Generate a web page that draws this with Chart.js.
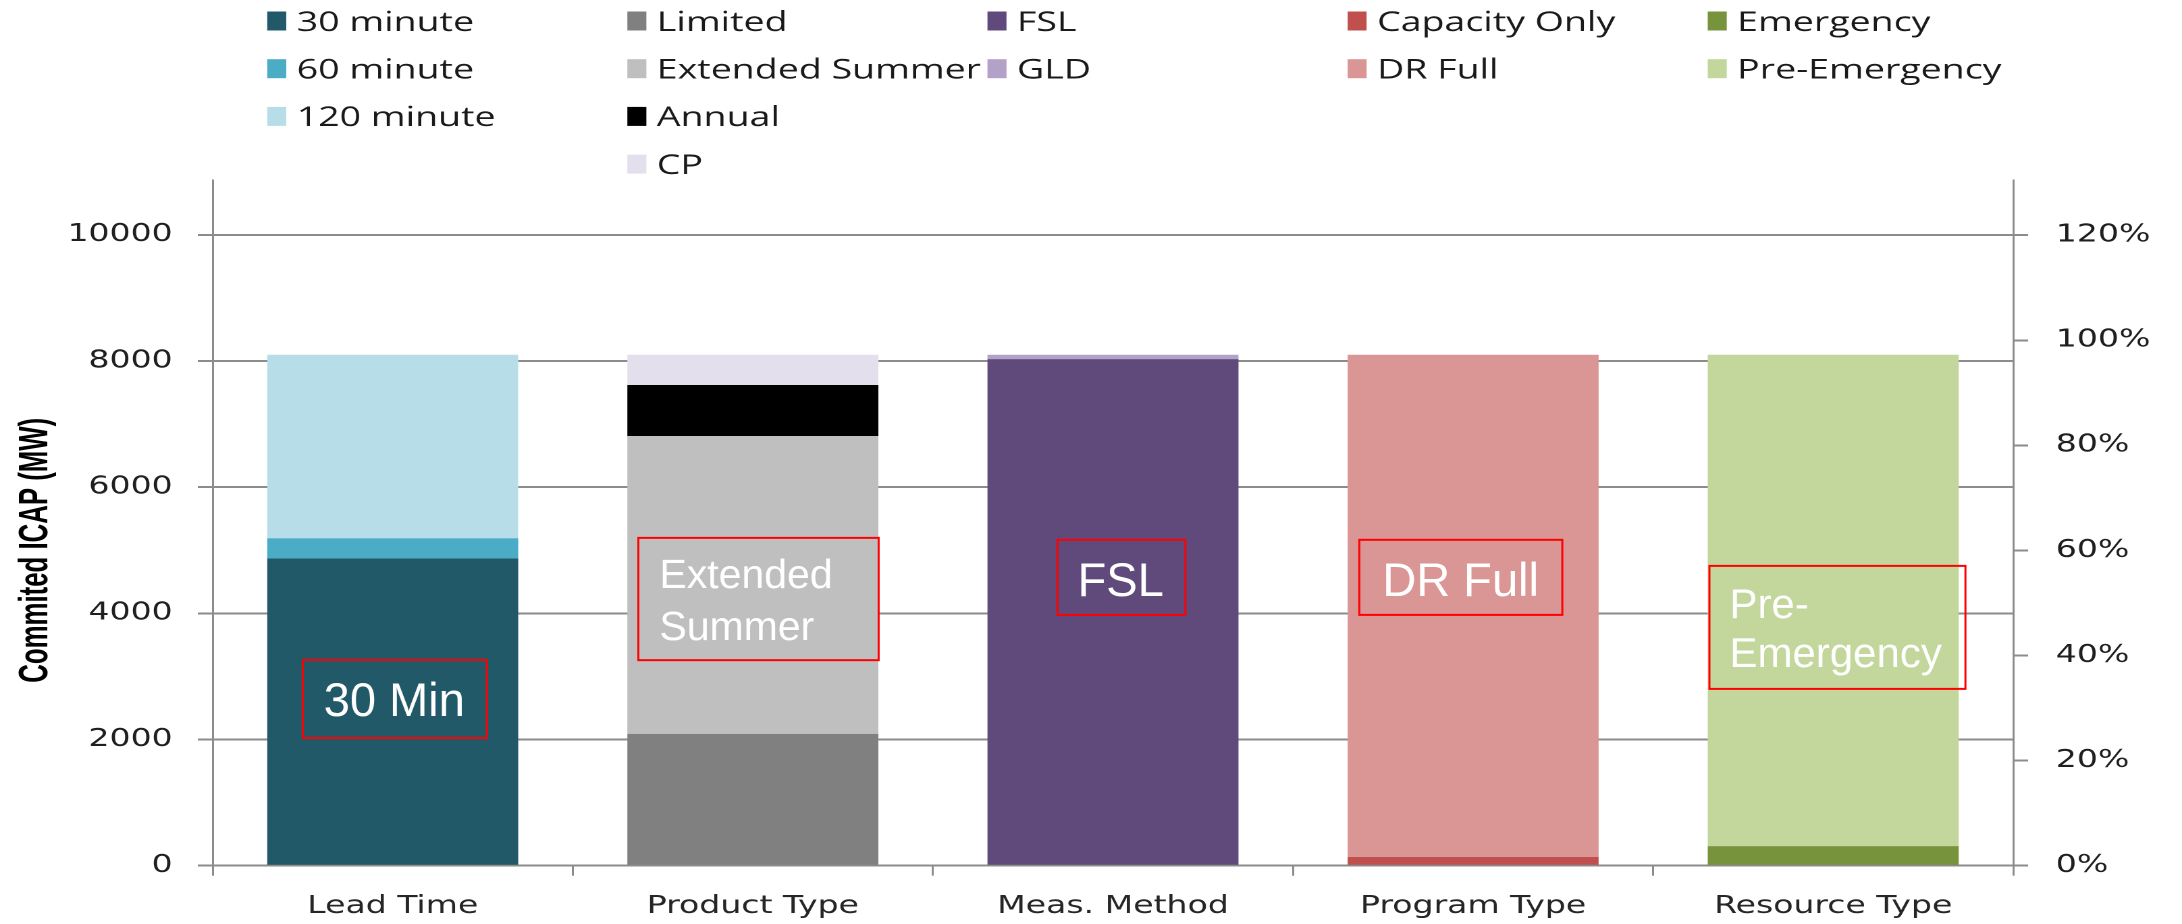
<!DOCTYPE html>
<html>
<head>
<meta charset="utf-8">
<script src="https://cdn.jsdelivr.net/npm/chart.js@4.4.1/dist/chart.umd.min.js"></script>
<style>
  html, body { margin: 0; padding: 0; background: #ffffff; overflow: hidden; }
  #wrap { position: absolute; left: 0; top: 0; width: 1616px; height: 924px; transform-origin: 0 0; }
</style>
</head>
<body>
<div id="wrap"><canvas id="c"></canvas></div>
<script>
// ---------------- data ----------------
const categories = ['Lead Time', 'Product Type', 'Meas. Method', 'Program Type', 'Resource Type'];

const leadTimeSeries = ['30 minute', '60 minute', '120 minute'];
const leadTimeValues = [4870, 320, 2910];

const productTypeSeries = ['Limited', 'Extended Summer', 'Annual', 'CP'];
const productTypeValues = [2090, 4720, 810, 480];

const measMethodSeries = ['FSL', 'GLD'];
const measMethodValues = [8030, 70];

const programTypeSeries = ['Capacity Only', 'DR Full'];
const programTypeValues = [140, 7960];

const resourceTypeSeries = ['Emergency', 'Pre-Emergency'];
const resourceTypeValues = [310, 7790];

const leftAxisTicks = [0, 2000, 4000, 6000, 8000, 10000];
const rightAxisTicks = [0, 20, 40, 60, 80, 100, 120];
const leftAxisMax = 10870;
const rightAxisMax = 130.5;
const yAxisTitle = 'Commited ICAP (MW)';
const annotationTexts = [['30 Min'], ['Extended', 'Summer'], ['FSL'], ['DR Full'], ['Pre-', 'Emergency']];

// ---------------- styles ----------------
const groupColors = [
  ['#215968', '#4BACC6', '#B7DEE8'],
  ['#808080', '#BFBFBF', '#000000', '#E4DFEC'],
  ['#604A7B', '#B3A2C7'],
  ['#C0504D', '#D99694'],
  ['#77933C', '#C3D69B']
];
const STRETCH = 2182 / 1616;          // the original picture is stretched horizontally
document.getElementById('wrap').style.transform = 'scaleX(' + STRETCH + ')';
const GRID = '#8C8C8C';
const TICK_FONT = { family: '"DejaVu Sans", Verdana, sans-serif', size: 24.5 };

// annotation layout (final-image pixels relative to category centre, y in axis units)
const annotationLayout = [
  { cat: 0, dx: [-90, 94],       top: 3262, bottom: 2025, size: 47, tx: 21, base: [56] },
  { cat: 1, dx: [-114.5, 125.8], top: 5197, bottom: 3258, size: 41, tx: 21, base: [50, 102] },
  { cat: 2, dx: [-55.5, 72.5],   top: 5166, bottom: 3976, size: 47, tx: 20, base: [56] },
  { cat: 3, dx: [-113.8, 89.2],  top: 5166, bottom: 3976, size: 47, tx: 23, base: [56] },
  { cat: 4, dx: [-123.8, 132.2], top: 4753, bottom: 2803, size: 42, tx: 20, base: [52, 101] }
];

// ---------------- datasets ----------------
const groups = [
  [leadTimeSeries, leadTimeValues],
  [productTypeSeries, productTypeValues],
  [measMethodSeries, measMethodValues],
  [programTypeSeries, programTypeValues],
  [resourceTypeSeries, resourceTypeValues]
];
const datasets = [];
groups.forEach(([names, vals], g) => {
  names.forEach((name, k) => {
    datasets.push({
      label: name,
      data: categories.map((_, i) => (i === g ? vals[k] : null)),
      backgroundColor: groupColors[g][k],
      borderWidth: 0,
      group: g,
      yAxisID: 'y',
      barPercentage: 0.697,
      categoryPercentage: 1
    });
  });
});

// ---------------- plugins ----------------
const customLegend = {
  id: 'customLegend',
  afterDraw(chart) {
    const ctx = chart.ctx;
    const rowIdx = categories.map(() => 0);
    ctx.save();
    chart.data.datasets.forEach((ds, i) => {
      const g = ds.group;
      const r = rowIdx[g]++;
      const bar = chart.getDatasetMeta(i).data[g];
      const left = bar.x - bar.width / 2;
      const cy = 21 + r * 47.7;
      ctx.fillStyle = ds.backgroundColor;
      ctx.fillRect(left, cy - 9.5, 19 / STRETCH, 19);
      ctx.fillStyle = '#1a1a1a';
      ctx.font = '27.8px "Open Sans", "DejaVu Sans", sans-serif';
      ctx.textAlign = 'left';
      ctx.textBaseline = 'alphabetic';
      ctx.fillText(ds.label, left + 21.8, cy + 9.8);
    });
    ctx.restore();
  }
};

const yTitlePlugin = {
  id: 'yTitlePlugin',
  afterDraw(chart) {
    const ctx = chart.ctx;
    const ys = chart.scales.y;
    const cy = ys.getPixelForValue((leftAxisTicks[0] + leftAxisTicks[leftAxisTicks.length - 1]) / 2);
    ctx.save();
    ctx.translate(ys.left + 34.8, cy);
    ctx.rotate(-Math.PI / 2);
    ctx.font = 'bold 31px "Liberation Sans", Arial, sans-serif';
    const w = ctx.measureText(yAxisTitle).width;
    ctx.scale(265 / w, 1);
    ctx.fillStyle = '#000000';
    ctx.textAlign = 'center';
    ctx.textBaseline = 'alphabetic';
    ctx.fillText(yAxisTitle, 0, 0);
    ctx.restore();
  }
};

const annotationPlugin = {
  id: 'annotationPlugin',
  afterDatasetsDraw(chart) {
    const ctx = chart.ctx;
    const xs = chart.scales.x, ys = chart.scales.y;
    ctx.save();
    ctx.scale(1 / STRETCH, 1);
    annotationLayout.forEach((a, i) => {
      const cx = xs.getPixelForValue(a.cat) * STRETCH;
      const x0 = cx + a.dx[0], x1 = cx + a.dx[1];
      const y0 = ys.getPixelForValue(a.top), y1 = ys.getPixelForValue(a.bottom);
      ctx.strokeStyle = '#FF0000';
      ctx.lineWidth = 2;
      ctx.strokeRect(x0, y0, x1 - x0, y1 - y0);
      ctx.fillStyle = '#FFFFFF';
      ctx.font = a.size + 'px "Liberation Sans", Arial, sans-serif';
      ctx.textAlign = 'left';
      ctx.textBaseline = 'alphabetic';
      annotationTexts[i].forEach((t, k) => ctx.fillText(t, x0 + a.tx, y0 + a.base[k]));
    });
    ctx.restore();
  }
};

// ---------------- chart ----------------
new Chart(document.getElementById('c'), {
  type: 'bar',
  data: { labels: categories, datasets },
  plugins: [customLegend, yTitlePlugin, annotationPlugin],
  options: {
    responsive: true,
    maintainAspectRatio: false,
    devicePixelRatio: 2,
    animation: false,
    layout: { padding: { top: 180, left: 0, right: 0, bottom: 0 } },
    plugins: { legend: { display: false }, tooltip: { enabled: false }, title: { display: false } },
    scales: {
      x: {
        type: 'category',
        stacked: true,
        offset: true,
        grid: { offset: true, drawOnChartArea: false, drawTicks: true, tickLength: 10, color: GRID, lineWidth: 1.5 },
        border: { display: true, color: GRID, width: 2 },
        ticks: { font: TICK_FONT, color: '#262626', padding: 16, maxRotation: 0, autoSkip: false },
        afterFit: (s) => { s.height = 58.3; }
      },
      y: {
        position: 'left',
        stacked: true,
        min: 0,
        max: leftAxisMax,
        afterBuildTicks: (s) => { s.ticks = leftAxisTicks.map(v => ({ value: v })); },
        grid: { drawOnChartArea: true, drawTicks: true, tickLength: 11, color: GRID, lineWidth: 2 },
        border: { display: true, color: GRID, width: 1.5 },
        ticks: { font: TICK_FONT, color: '#1f1f1f', padding: 18.6, callback: (v) => String(v) },
        afterFit: (s) => { s.width = 157.5; }
      },
      y2: {
        position: 'right',
        min: 0,
        max: rightAxisMax,
        afterBuildTicks: (s) => { s.ticks = rightAxisTicks.map(v => ({ value: v })); },
        grid: { drawOnChartArea: false, drawTicks: true, tickLength: 11, color: GRID, lineWidth: 2 },
        border: { display: true, color: GRID, width: 1.5 },
        ticks: { font: TICK_FONT, color: '#1f1f1f', padding: 20.5, callback: (v) => v + '%' },
        afterFit: (s) => { s.width = 124.95; }
      }
    }
  }
});
</script>
</body>
</html>
